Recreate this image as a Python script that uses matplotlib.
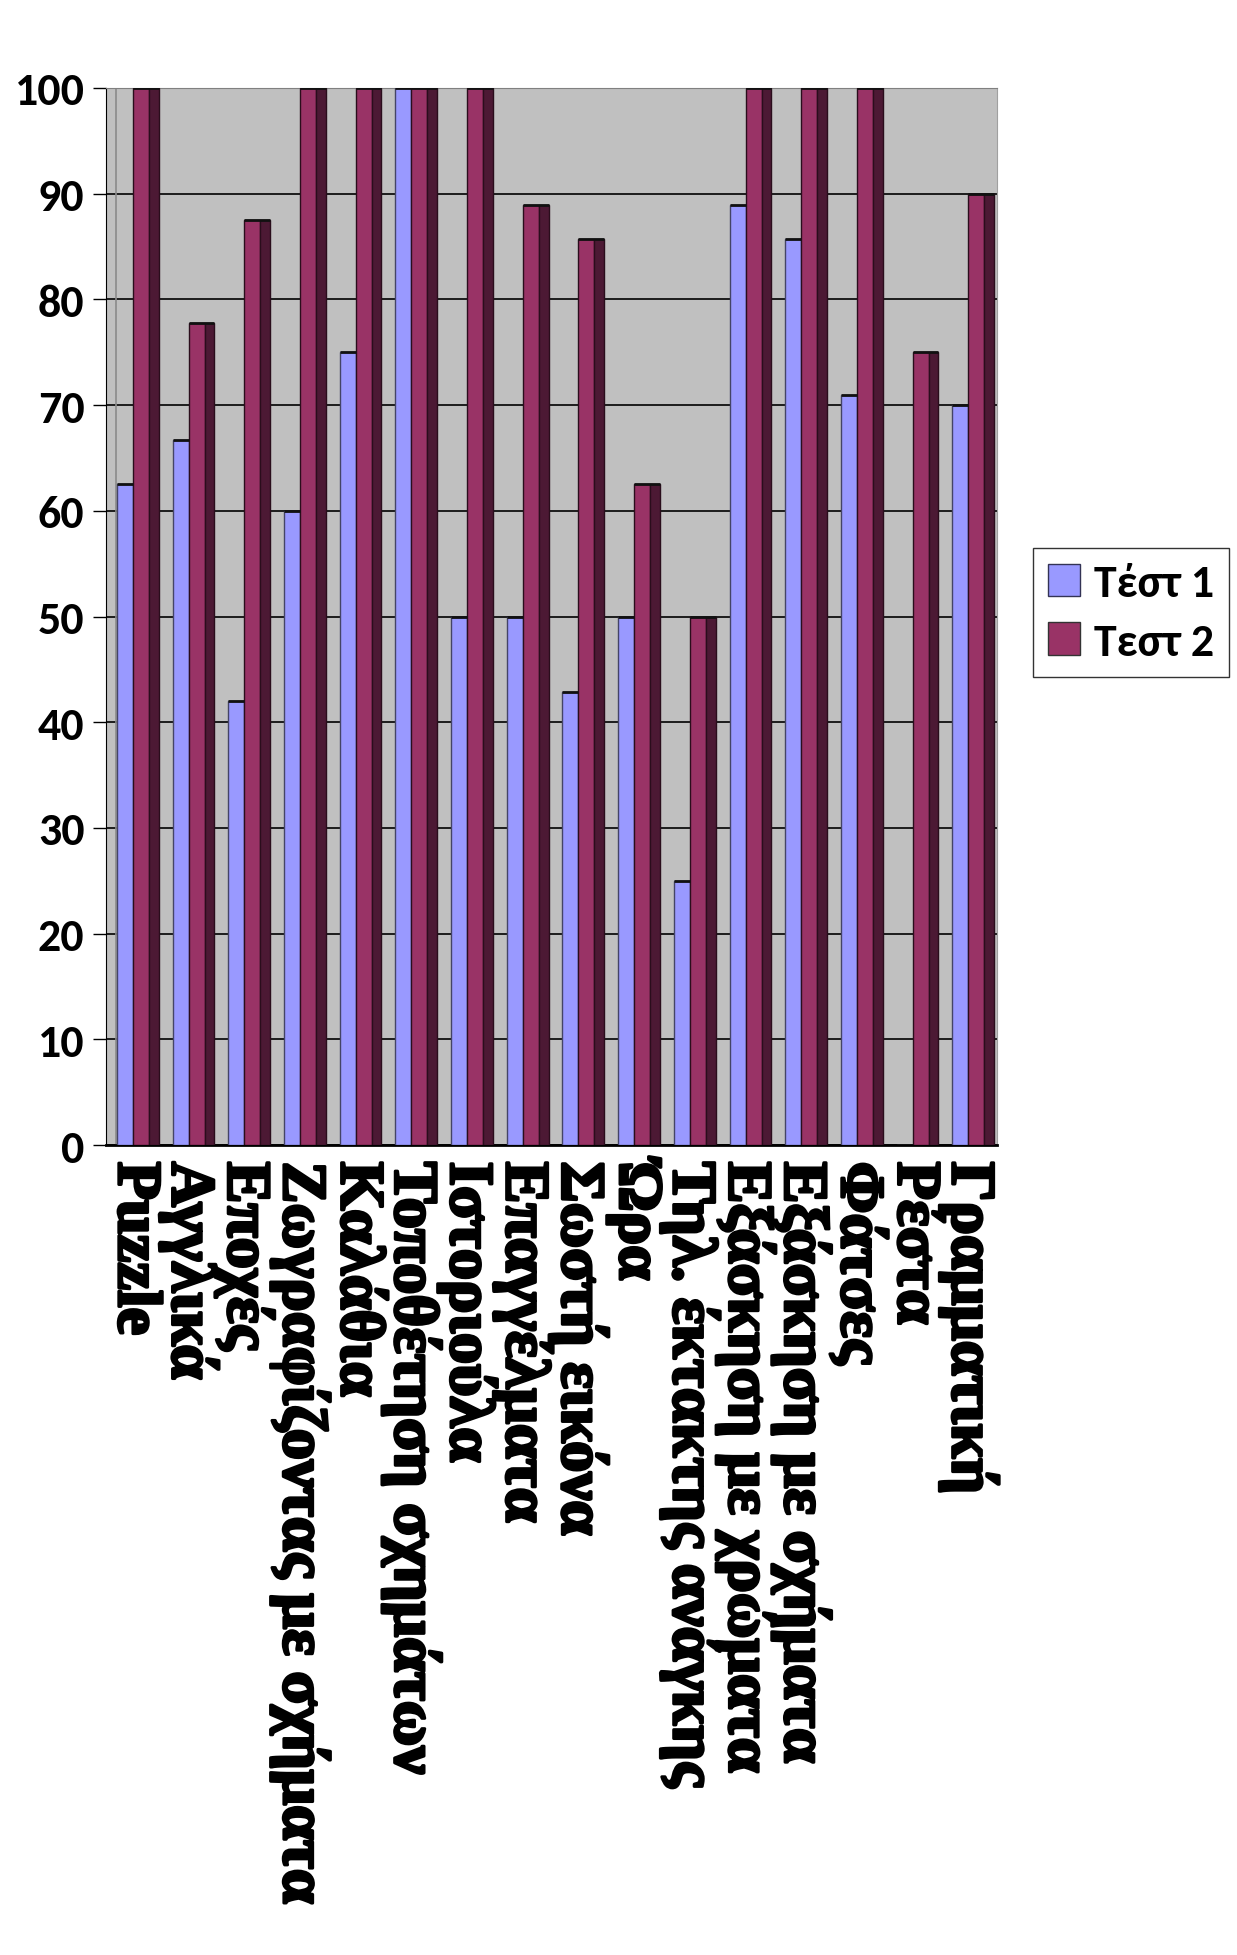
import matplotlib
matplotlib.use('Agg')
import matplotlib.pyplot as plt
import matplotlib.patches as mpatches
import matplotlib.patheffects as pe
from matplotlib.font_manager import FontProperties
import numpy as np

categories = ['Puzzle', 'Αγγλικά', 'Εποχές', 'Ζωγραφίζοντας με σχήματα', 'Καλάθια',
              'Τοποθέτηση σχημάτων', 'Ιστοριούλα', 'Επαγγέλματα', 'Σωστή εικόνα', 'Ώρα',
              'Τηλ. έκτακτης ανάγκης', 'Εξάσκηση με χρώματα', 'Εξάσκηση με σχήματα',
              'Φάτσες', 'Ρέστα', 'Γραμματική']
test1 = [62.5, 66.7, 42, 60, 75, 100, 50, 50, 42.9, 50, 25, 88.9, 85.7, 71, 0, 70]
test2 = [100, 77.8, 87.5, 100, 100, 100, 100, 88.9, 85.7, 62.5, 50, 100, 100, 100, 75, 90]
series_names = ['Τέστ 1', 'Τεστ 2']
yticks = [0, 10, 20, 30, 40, 50, 60, 70, 80, 90, 100]

blue = '#9999FF'
maroon = '#993366'
side = '#4C1934'
wall = '#C0C0C0'

tick_font = FontProperties(family='Carlito', weight='bold', size=33)
legend_font = FontProperties(family='Carlito', weight='bold', size=33)
serif_bold = FontProperties(family='Liberation Serif', weight='bold', size=45)

fig = plt.figure(figsize=(12.37, 19.56), dpi=100)
ax = fig.add_axes([0.0857, 0.4141, 0.7203, 0.5404])
ax.set_facecolor(wall)

x = np.arange(len(categories))
w = 0.287
# front faces
ax.bar(x - 0.303, test1, width=w, align='edge', color=blue, edgecolor='#444466', linewidth=1, zorder=3)
ax.bar(x - 0.016, test2, width=w, align='edge', color=maroon, edgecolor='#2a0d1c', linewidth=1, zorder=4)
# 3D side face of the second series
ax.bar(x + 0.271, test2, width=0.175, align='edge', color=side, edgecolor='#2a0d1c', linewidth=1, zorder=4)
# thin top faces
ax.hlines(test1, x - 0.303, x - 0.016, colors='#111111', linewidth=2, zorder=5)
ax.hlines(test2, x - 0.016, x + 0.446, colors='#111111', linewidth=2, zorder=5)

ax.set_xlim(-0.5, 15.5)
ax.set_ylim(0, 100)
ax.yaxis.grid(True, color='black', linewidth=1.2, zorder=1)
ax.set_axisbelow(True)
ax.axvline(-0.32, color='#8a8a8a', linewidth=1.2, zorder=2)

ax.tick_params(axis='x', length=0, pad=12)
ax.tick_params(axis='y', length=9.5, width=1, color='black', pad=6)
ax.set_xticks(x)
ax.set_xticklabels(categories, rotation=270, ha='center', va='top',
                   fontproperties=serif_bold)
# the original labels are rendered very heavy
for lab in ax.get_xticklabels():
    lab.set_path_effects([pe.withStroke(linewidth=2.2, foreground='black')])
ax.set_yticks(yticks)
ax.set_yticklabels([str(v) for v in yticks], fontproperties=tick_font)

ax.spines['left'].set_color('black')
ax.spines['bottom'].set_color('black')
ax.spines['bottom'].set_linewidth(2)
ax.spines['top'].set_color('#808080')
ax.spines['right'].set_color('#a0a0a0')

handles = [mpatches.Patch(facecolor=blue, edgecolor='#333355', label=series_names[0]),
           mpatches.Patch(facecolor=maroon, edgecolor='#333333', label=series_names[1])]
leg = fig.legend(handles=handles, loc='upper left', bbox_to_anchor=(0.835, 0.7193),
                 prop=legend_font,
                 frameon=True, fancybox=False, edgecolor='black',
                 handlelength=0.7, handleheight=0.7, handletextpad=0.3,
                 labelspacing=0.4, borderpad=0.33, borderaxespad=0)
leg.get_frame().set_linewidth(1)

fig.savefig('out.png', dpi=100)
